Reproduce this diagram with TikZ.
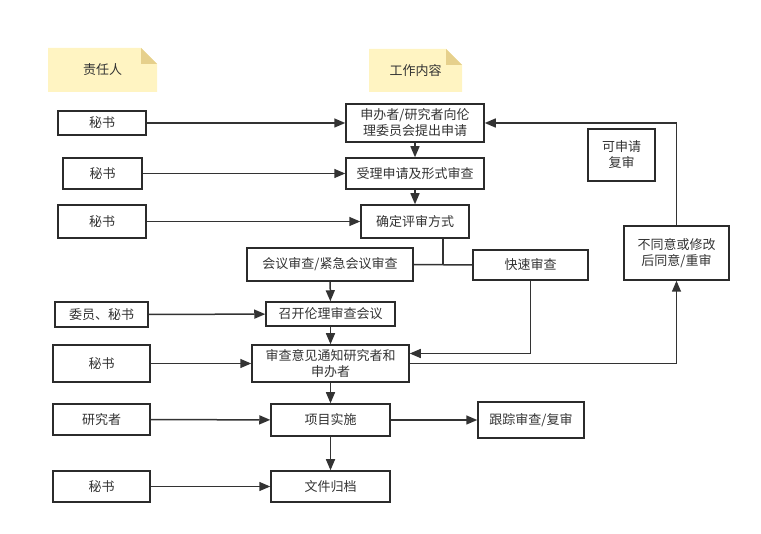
\documentclass[tikz,border=0pt]{standalone}
\usepackage{fontspec}
\setmainfont{Noto Sans CJK SC}
\usetikzlibrary{arrows.meta}
\definecolor{ink}{HTML}{2B2B2B}
\definecolor{txt}{HTML}{333333}
\definecolor{notecol}{HTML}{FFF4C2}
\definecolor{foldcol}{HTML}{E6D08C}
\tikzset{
  box/.style={draw=ink, line width=1.5pt, fill=white, text=txt, inner sep=1pt,
    align=center, font=\fontsize{13}{16}\selectfont},
  note/.style={text=txt, inner sep=0pt, font=\fontsize{13}{16}\selectfont,
    path picture={
      \fill[notecol] (path picture bounding box.south west) -- (path picture bounding box.north west)
        -- ([xshift=-16pt]path picture bounding box.north east)
        -- ([yshift=-16pt]path picture bounding box.north east)
        -- (path picture bounding box.south east) -- cycle;
      \fill[foldcol] ([xshift=-16pt]path picture bounding box.north east)
        -- ([xshift=-16pt,yshift=-16pt]path picture bounding box.north east)
        -- ([yshift=-16pt]path picture bounding box.north east) -- cycle;
    }},
  conn/.style={draw=txt, line width=1.5pt},
  arr/.style={conn, -{Triangle[length=11pt,width=9pt]}},
}
\begin{document}
\begin{tikzpicture}[x=1pt,y=-1pt]
\useasboundingbox (0,0) rectangle (761,534);
% notes
\node[note, minimum width=109pt, minimum height=44pt] (n1) at (102.5,70) {责任人};
\node[note, minimum width=93pt, minimum height=43pt] (n2) at (415.5,70.5) {工作内容};
% left column
\node[box, minimum width=88pt, minimum height=24pt] (s1) at (102,123) {秘书};
\node[box, minimum width=79pt, minimum height=31pt] (s2) at (102.5,173.5) {秘书};
\node[box, minimum width=88pt, minimum height=33pt] (s3) at (102,221.5) {秘书};
\node[box, minimum width=93pt, minimum height=25pt] (m1) at (101.5,314.5) {委员、秘书};
\node[box, minimum width=97pt, minimum height=37pt] (s4) at (101.5,363.5) {秘书};
\node[box, minimum width=97pt, minimum height=31pt] (res) at (101.5,419.5) {研究者};
\node[box, minimum width=97pt, minimum height=31pt] (s5) at (101.5,486.5) {秘书};
% process
\node[box, minimum width=138pt, minimum height=38pt] (apply) at (415,123) {申办者/研究者向伦\\理委员会提出申请};
\node[box, minimum width=138pt, minimum height=31pt] (accept) at (415,173.5) {受理申请及形式审查};
\node[box, minimum width=108pt, minimum height=33pt] (decide) at (415,221.5) {确定评审方式};
\node[box, minimum width=166pt, minimum height=33pt] (meet) at (330,264.5) {会议审查/紧急会议审查};
\node[box, minimum width=115pt, minimum height=30pt] (fast) at (530.5,265) {快速审查};
\node[box, minimum width=129pt, minimum height=24pt] (conv) at (330.5,314) {召开伦理审查会议};
\node[box, minimum width=157pt, minimum height=37pt] (notify) at (330.5,363.5) {审查意见通知研究者和\\申办者};
\node[box, minimum width=119pt, minimum height=32pt] (impl) at (330.5,420) {项目实施};
\node[box, minimum width=106pt, minimum height=36pt] (track) at (531,420) {跟踪审查/复审};
\node[box, minimum width=119pt, minimum height=31pt] (arch) at (330.5,486.5) {文件归档};
\node[box, minimum width=67pt, minimum height=52pt] (rechk) at (621.5,155) {可申请\\复审};
\node[box, minimum width=105pt, minimum height=54pt] (dis) at (676.5,253) {不同意或修改\\后同意/重审};
% connectors
\draw[arr] (s1) -- (apply);
\draw[arr] (s2) -- (accept);
\draw[arr] (s3) -- (decide);
\draw[arr] (m1) -- (conv);
\draw[arr] (s4) -- (notify);
\draw[arr] (res) -- (impl);
\draw[arr] (s5) -- (arch);
\draw[arr] (apply) -- (accept);
\draw[arr] (accept) -- (decide);
\coordinate (j) at (443,264.5);
\draw[conn] ([xshift=28pt]decide.south) -- (j);
\draw[conn] (meet.east) -- (fast.west);
\draw[arr] (meet) -- (conv);
\draw[arr] (conv) -- (notify);
\draw[arr] (fast.south) |- ([yshift=10pt]notify.east);
\draw[arr] (notify.east) -| (dis.south);
\draw[arr] (dis.north) |- (apply.east);
\draw[arr] (notify) -- (impl);
\draw[arr] (impl) -- (track);
\draw[arr] (impl) -- (arch);
\end{tikzpicture}
\end{document}
